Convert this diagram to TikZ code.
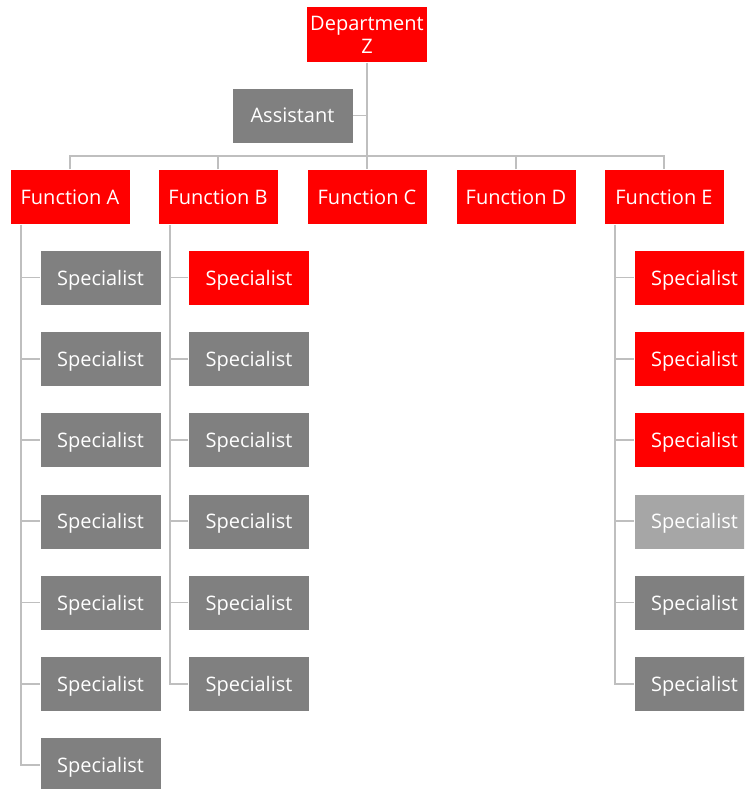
\documentclass[tikz,border=0pt]{standalone}
\usepackage{fontspec}
\setmainfont{Open Sans}
\definecolor{boxred}{HTML}{FF0000}
\definecolor{boxgray}{HTML}{808080}
\definecolor{boxlight}{HTML}{A6A6A6}
\definecolor{linkgray}{HTML}{BFBFBF}
\begin{document}
\begin{tikzpicture}[x=1pt,y=-1pt,
  unit/.style={rectangle, draw=white, line width=0.5pt, text=white,
    minimum width=121pt, minimum height=55pt, inner sep=1pt,
    font=\fontsize{20}{23}\selectfont, align=center},
  redbox/.style={unit, fill=boxred},
  graybox/.style={unit, fill=boxgray},
  lightbox/.style={unit, fill=boxlight},
  staff/.style={text depth=0pt},
  link/.style={draw=linkgray, line width=1.8pt}]
\useasboundingbox (0,0) rectangle (744,789);
\begin{scope}
\clip (0,0) rectangle (744,789);

% head of department and assistant
\node[redbox, minimum height=56pt] (dep) at (367,34.5) {Department\\Z};
\node[graybox] (asst) at (292.5,115.5) {Assistant};

% functions
\node[redbox, minimum width=120pt] (fa) at (70,197) {Function A};
\node[redbox, minimum width=120pt] (fb) at (218,197) {Function B};
\node[redbox, minimum width=120pt] (fc) at (367,197) {Function C};
\node[redbox, minimum width=120pt] (fd) at (516,197) {Function D};
\node[redbox, minimum width=120pt] (fe) at (664,197) {Function E};

% specialists of Function A
\foreach \i in {1,...,7}
  \node[graybox, staff] (a\i) at (100.5,{277.5+81.25*(\i-1)}) {Specialist};

% specialists of Function B
\node[redbox, staff] (b1) at (249,277.5) {Specialist};
\foreach \i in {2,...,6}
  \node[graybox, staff] (b\i) at (249,{277.5+81.25*(\i-1)}) {Specialist};

% specialists of Function E
\foreach \i in {1,2,3}
  \node[redbox, staff] (e\i) at (694.5,{277.5+81.25*(\i-1)}) {Specialist};
\node[lightbox, staff] (e4) at (694.5,521.25) {Specialist};
\node[graybox, staff] (e5) at (694.5,602.5) {Specialist};
\node[graybox, staff] (e6) at (694.5,683.75) {Specialist};

% connectors
\coordinate (bus) at (367,156);
\draw[link] (dep.south) -- (fc.north);
\draw[link] (asst.east) -- (asst.east -| dep.south);
\draw[link] (fa.north) |- (bus) -| (fe.north);
\draw[link] (fb.north) -- (fb.north |- bus);
\draw[link] (fd.north) -- (fd.north |- bus);

\draw[link] ([xshift=-49pt]fa.south) |- (a7.west);
\foreach \i in {1,...,6}
  \draw[link] (a\i.west) -- ++(-19.5,0);

\draw[link] ([xshift=-48pt]fb.south) |- (b6.west);
\foreach \i in {1,...,5}
  \draw[link] (b\i.west) -- ++(-19,0);

\draw[link] ([xshift=-49pt]fe.south) |- (e6.west);
\foreach \i in {1,...,5}
  \draw[link] (e\i.west) -- ++(-19,0);
\end{scope}
\end{tikzpicture}
\end{document}
